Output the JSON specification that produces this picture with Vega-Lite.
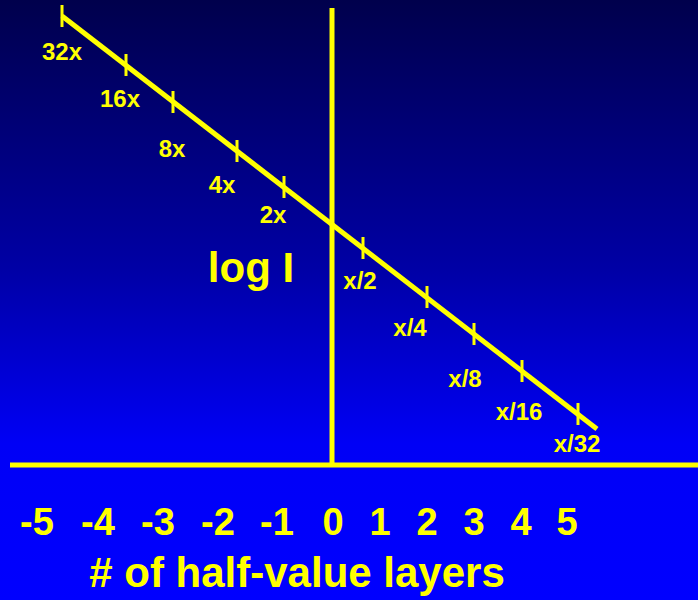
{
  "$schema": "https://vega.github.io/schema/vega-lite/v6.json",
  "width": 698,
  "height": 600,
  "autosize": {"type": "none"},
  "padding": 0,
  "background": "#0000ff",
  "config": {"view": {"stroke": null}},
  "datasets": {
    "bg": [{"x0": 0, "x1": 698, "y0": 0, "y1": 600}],
    "lines": [
      {"x": 332, "y": 8, "x2": 332, "y2": 465},
      {"x": 10, "y": 465, "x2": 698, "y2": 465},
      {"x": 62, "y": 16, "x2": 597, "y2": 429}
    ],
    "ticks": [
      {"x": 62, "y": 16}, {"x": 126, "y": 65}, {"x": 173, "y": 102},
      {"x": 237, "y": 151}, {"x": 284, "y": 187}, {"x": 363, "y": 248},
      {"x": 427, "y": 297}, {"x": 474, "y": 334}, {"x": 522, "y": 371},
      {"x": 578, "y": 414}
    ],
    "small": [
      {"label": "32x", "x": 62, "y": 60},
      {"label": "16x", "x": 120, "y": 107},
      {"label": "8x", "x": 172, "y": 157},
      {"label": "4x", "x": 222, "y": 193},
      {"label": "2x", "x": 273, "y": 223},
      {"label": "x/2", "x": 360, "y": 289},
      {"label": "x/4", "x": 410, "y": 336},
      {"label": "x/8", "x": 465, "y": 387},
      {"label": "x/16", "x": 519, "y": 420},
      {"label": "x/32", "x": 577, "y": 452}
    ],
    "nums": [
      {"label": "-5", "x": 37}, {"label": "-4", "x": 98}, {"label": "-3", "x": 158},
      {"label": "-2", "x": 218}, {"label": "-1", "x": 277}, {"label": "0", "x": 333},
      {"label": "1", "x": 380}, {"label": "2", "x": 427}, {"label": "3", "x": 474},
      {"label": "4", "x": 521}, {"label": "5", "x": 567}
    ],
    "big": [
      {"label": "# of half-value layers", "x": 297, "y": 587},
      {"label": "log I", "x": 251, "y": 282}
    ]
  },
  "layer": [
    {
      "data": {"name": "bg"},
      "mark": {
        "type": "rect",
        "color": {
          "gradient": "linear", "x1": 0, "y1": 0, "x2": 0, "y2": 1,
          "stops": [
            {"offset": 0, "color": "#00004c"},
            {"offset": 0.45, "color": "#0000a6"},
            {"offset": 0.74, "color": "#0000f6"},
            {"offset": 1, "color": "#0000ff"}
          ]
        }
      },
      "encoding": {
        "x": {"field": "x0", "type": "quantitative", "scale": {"domain": [0, 698], "nice": false, "zero": false}, "axis": null},
        "x2": {"field": "x1"},
        "y": {"field": "y0", "type": "quantitative", "scale": {"domain": [0, 600], "nice": false, "zero": false, "reverse": true}, "axis": null},
        "y2": {"field": "y1"}
      }
    },
    {
      "data": {"name": "lines"},
      "mark": {"type": "rule", "color": "#ffff00", "strokeWidth": 5, "strokeCap": "butt"},
      "encoding": {
        "x": {"field": "x", "type": "quantitative"},
        "x2": {"field": "x2"},
        "y": {"field": "y", "type": "quantitative"},
        "y2": {"field": "y2"}
      }
    },
    {
      "data": {"name": "ticks"},
      "mark": {"type": "tick", "orient": "vertical", "color": "#ffff00", "size": 22, "thickness": 3, "opacity": 1},
      "encoding": {
        "x": {"field": "x", "type": "quantitative"},
        "y": {"field": "y", "type": "quantitative"}
      }
    },
    {
      "data": {"name": "small"},
      "mark": {"type": "text", "color": "#ffff00", "font": "Liberation Sans", "fontWeight": "bold", "fontSize": 24, "align": "center", "baseline": "alphabetic"},
      "encoding": {
        "x": {"field": "x", "type": "quantitative"},
        "y": {"field": "y", "type": "quantitative"},
        "text": {"field": "label"}
      }
    },
    {
      "data": {"name": "nums"},
      "mark": {"type": "text", "color": "#ffff00", "font": "Liberation Sans", "fontWeight": "bold", "fontSize": 38, "align": "center", "baseline": "alphabetic", "y": 535},
      "encoding": {
        "x": {"field": "x", "type": "quantitative"},
        "text": {"field": "label"}
      }
    },
    {
      "data": {"name": "big"},
      "mark": {"type": "text", "color": "#ffff00", "font": "Liberation Sans", "fontWeight": "bold", "fontSize": 42, "align": "center", "baseline": "alphabetic"},
      "encoding": {
        "x": {"field": "x", "type": "quantitative"},
        "y": {"field": "y", "type": "quantitative"},
        "text": {"field": "label"}
      }
    }
  ]
}
